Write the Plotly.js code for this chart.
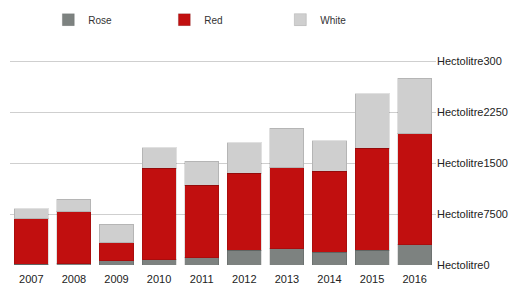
<!DOCTYPE html>
<html>
<head>
<meta charset="utf-8">
<script src="https://cdn.plot.ly/plotly-3.0.1.min.js"></script>
<style>html,body{margin:0;padding:0;background:#fff;}#chart{width:511px;height:288px;}</style>
</head>
<body>
<div id="chart"></div>
<script>
var years = ['2007','2008','2009','2010','2011','2012','2013','2014','2015','2016'];
var rose  = [10, 15, 60, 75, 105, 220, 240, 190, 220, 300];
var red   = [670, 770, 270, 1350, 1070, 1130, 1190, 1190, 1500, 1630];
var white = [150, 180, 270, 300, 355, 445, 580, 445, 800, 815];
var tickVals = [0, 750, 1500, 2250, 3000];
var tickText = ['Hectolitre0', 'Hectolitre7500', 'Hectolitre1500', 'Hectolitre2250', 'Hectolitre300'];

function bar(name, y, color) {
  return {
    type: 'bar', name: name, x: years, y: y,
    marker: {color: color, line: {color: 'rgba(0,0,0,0.12)', width: 1}},
    hoverinfo: 'x+y+name'
  };
}
var data = [
  bar('Rose', rose, '#7d8280'),
  bar('Red', red, '#c10f0f'),
  bar('White', white, '#cfcfcf')
];
var layout = {
  width: 511, height: 288,
  barmode: 'stack', bargap: 0.2,
  margin: {l: 10, r: 75, t: 40, b: 23, autoexpand: false},
  paper_bgcolor: '#ffffff', plot_bgcolor: '#ffffff',
  font: {family: 'Liberation Sans, Arial, sans-serif', size: 10, color: '#222'},
  showlegend: true,
  legend: {orientation: 'h', x: 0.09, xanchor: 'left', y: 1.155, yanchor: 'top',
           entrywidth: 71, entrywidthmode: 'pixels', traceorder: 'normal',
           font: {size: 10, color: '#333'}},
  xaxis: {type: 'category', showgrid: false, zeroline: false, showline: false,
          ticks: '', ticklabelstandoff: 6, tickfont: {size: 11, color: '#222'}},
  yaxis: {side: 'right', range: [0, 3310], tickvals: tickVals, ticktext: tickText,
          showgrid: true, gridcolor: '#cfcfcf', gridwidth: 1, zeroline: false,
          showline: false, ticks: '', tickfont: {size: 11, color: '#222'}}
};
Plotly.newPlot('chart', data, layout, {displayModeBar: false, staticPlot: true});
</script>
</body>
</html>
